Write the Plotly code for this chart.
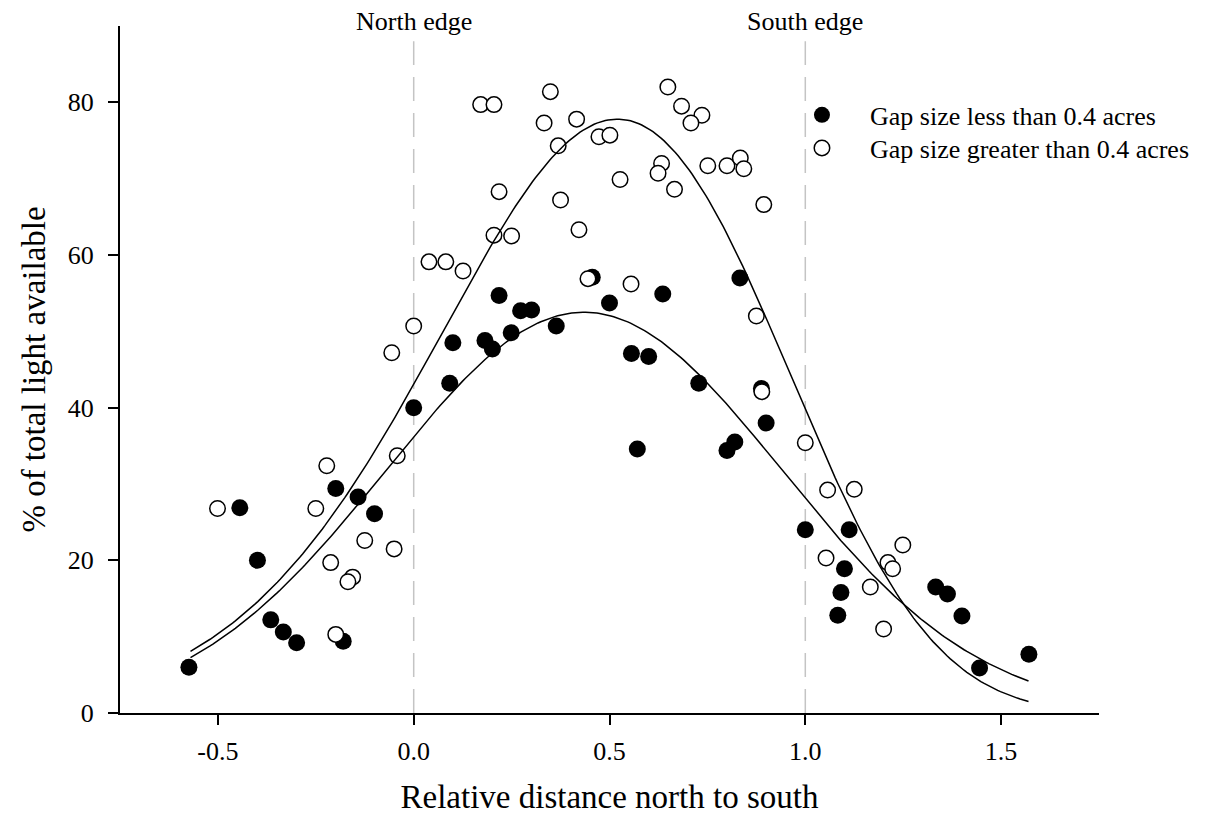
import numpy as np
import plotly.graph_objects as go

# ---- data: gaps smaller than 0.4 acres (filled) ----
small_x = [-0.574, -0.444, -0.399, -0.365, -0.333, -0.299, -0.180, -0.199, -0.142, -0.100,
           0.000, 0.092, 0.100, 0.182, 0.201, 0.218, 0.249, 0.273, 0.301, 0.364,
           0.456, 0.500, 0.556, 0.571, 0.600, 0.636, 0.728, 0.800, 0.820, 0.833,
           0.888, 0.900, 1.000, 1.083, 1.091, 1.100, 1.112, 1.333, 1.363, 1.400,
           1.445, 1.571]
small_y = [6.0, 26.9, 20.0, 12.2, 10.6, 9.2, 9.4, 29.4, 28.3, 26.1,
           40.0, 43.2, 48.5, 48.8, 47.7, 54.7, 49.8, 52.7, 52.8, 50.7,
           57.1, 53.7, 47.1, 34.6, 46.7, 54.9, 43.2, 34.4, 35.5, 57.0,
           42.5, 38.0, 24.0, 12.8, 15.8, 18.9, 24.0, 16.5, 15.6, 12.7,
           5.9, 7.7]

# ---- data: gaps larger than 0.4 acres (open) ----
large_x = [-0.501, -0.250, -0.222, -0.212, -0.156, -0.168, -0.125, -0.050, -0.199, -0.042,
           -0.056, 0.000, 0.039, 0.082, 0.126, 0.171, 0.205, 0.218, 0.205, 0.250,
           0.349, 0.333, 0.416, 0.369, 0.473, 0.501, 0.527, 0.375, 0.422, 0.445,
           0.555, 0.649, 0.684, 0.736, 0.708, 0.633, 0.624, 0.666, 0.751, 0.800,
           0.834, 0.843, 0.894, 0.875, 0.889, 1.000, 1.057, 1.125, 1.053, 1.166,
           1.249, 1.211, 1.223, 1.200]
large_y = [26.8, 26.8, 32.4, 19.7, 17.8, 17.2, 22.6, 21.5, 10.3, 33.7,
           47.2, 50.7, 59.1, 59.1, 57.9, 79.7, 79.7, 68.3, 62.6, 62.5,
           81.4, 77.3, 77.8, 74.3, 75.5, 75.7, 69.9, 67.2, 63.3, 56.9,
           56.2, 82.0, 79.5, 78.3, 77.3, 72.0, 70.7, 68.6, 71.7, 71.7,
           72.7, 71.3, 66.6, 52.0, 42.1, 35.4, 29.2, 29.3, 20.3, 16.5,
           22.0, 19.7, 18.9, 11.0]

# ---- fitted peak curves (parameters) ----
small_fit = {"amp": 52.5, "center": 0.435, "width": 0.505}
large_fit = {"amp": 77.8, "center": 0.52, "width": 0.128, "bound": 4.0}
fit_range = [-0.57, 1.57]

x_ticks = [-0.5, 0.0, 0.5, 1.0, 1.5]
y_ticks = [0, 20, 40, 60, 80]
edge_positions = [0.0, 1.0]
edge_labels = ["North edge", "South edge"]

xf = np.linspace(fit_range[0], fit_range[1], 300)
y_small_fit = small_fit["amp"] * np.exp(-0.5 * ((xf - small_fit["center"]) / small_fit["width"]) ** 2)
y_large_fit = large_fit["amp"] * np.exp(
    -0.5 * (np.log((large_fit["bound"] - xf) / (large_fit["bound"] - large_fit["center"])) / large_fit["width"]) ** 2)

FONT = "Liberation Serif, Times New Roman, serif"

fig = go.Figure()
fig.add_trace(go.Scatter(x=small_x, y=small_y, mode="markers", name="Gap size less than 0.4 acres",
                         legend="legend",
                         marker=dict(symbol="circle", size=17, color="black", line=dict(width=0))))
fig.add_trace(go.Scatter(x=large_x, y=large_y, mode="markers", name="Gap size greater than 0.4 acres",
                         legend="legend2",
                         marker=dict(symbol="circle", size=15.5, color="white", line=dict(width=1.5, color="black"))))
fig.add_trace(go.Scatter(x=xf, y=y_small_fit, mode="lines", showlegend=False,
                         line=dict(color="black", width=1.5)))
fig.add_trace(go.Scatter(x=xf, y=y_large_fit, mode="lines", showlegend=False,
                         line=dict(color="black", width=1.5)))

for xe, lab in zip(edge_positions, edge_labels):
    fig.add_shape(type="line", x0=xe, x1=xe, y0=0, y1=88, xref="x", yref="y",
                  line=dict(color="#c4c4c4", width=1.5, dash="24px,12px"), layer="below")
    fig.add_annotation(x=xe, y=1.0, xref="x", yref="paper", text=lab, showarrow=False,
                       yanchor="middle", xanchor="center", yshift=5,
                       font=dict(size=26, color="black", family=FONT))

legend_common = dict(xanchor="left", yanchor="middle", bgcolor="rgba(0,0,0,0)",
                     font=dict(size=26, family=FONT, color="black"), itemwidth=86)

fig.update_layout(
    width=1209, height=826,
    margin=dict(l=112, r=118, t=18, b=121),
    paper_bgcolor="white", plot_bgcolor="white",
    font=dict(family=FONT, color="black", size=26),
    legend=dict(x=0.668, y=0.8705, **legend_common),
    legend2=dict(x=0.668, y=0.8224, **legend_common),
    xaxis=dict(range=[-0.75, 1.75], tickvals=x_ticks, ticktext=[f"{v:.1f}" for v in x_ticks],
               showgrid=False, zeroline=False, showline=True, linecolor="black", linewidth=2,
               ticks="outside", ticklen=10, tickwidth=1.5, tickcolor="black", ticklabelstandoff=4,
               tickfont=dict(size=26), title=dict(text="Relative distance north to south",
                                                   font=dict(size=33), standoff=20)),
    yaxis=dict(range=[0, 90], tickvals=y_ticks, showgrid=False, zeroline=False, showline=True,
               linecolor="black", linewidth=2, ticks="outside", ticklen=10, tickwidth=1.5,
               tickcolor="black", tickfont=dict(size=26), ticklabelstandoff=9,
               title=dict(text="% of total light available", font=dict(size=33), standoff=12)),
)

fig.write_html("out.html")
